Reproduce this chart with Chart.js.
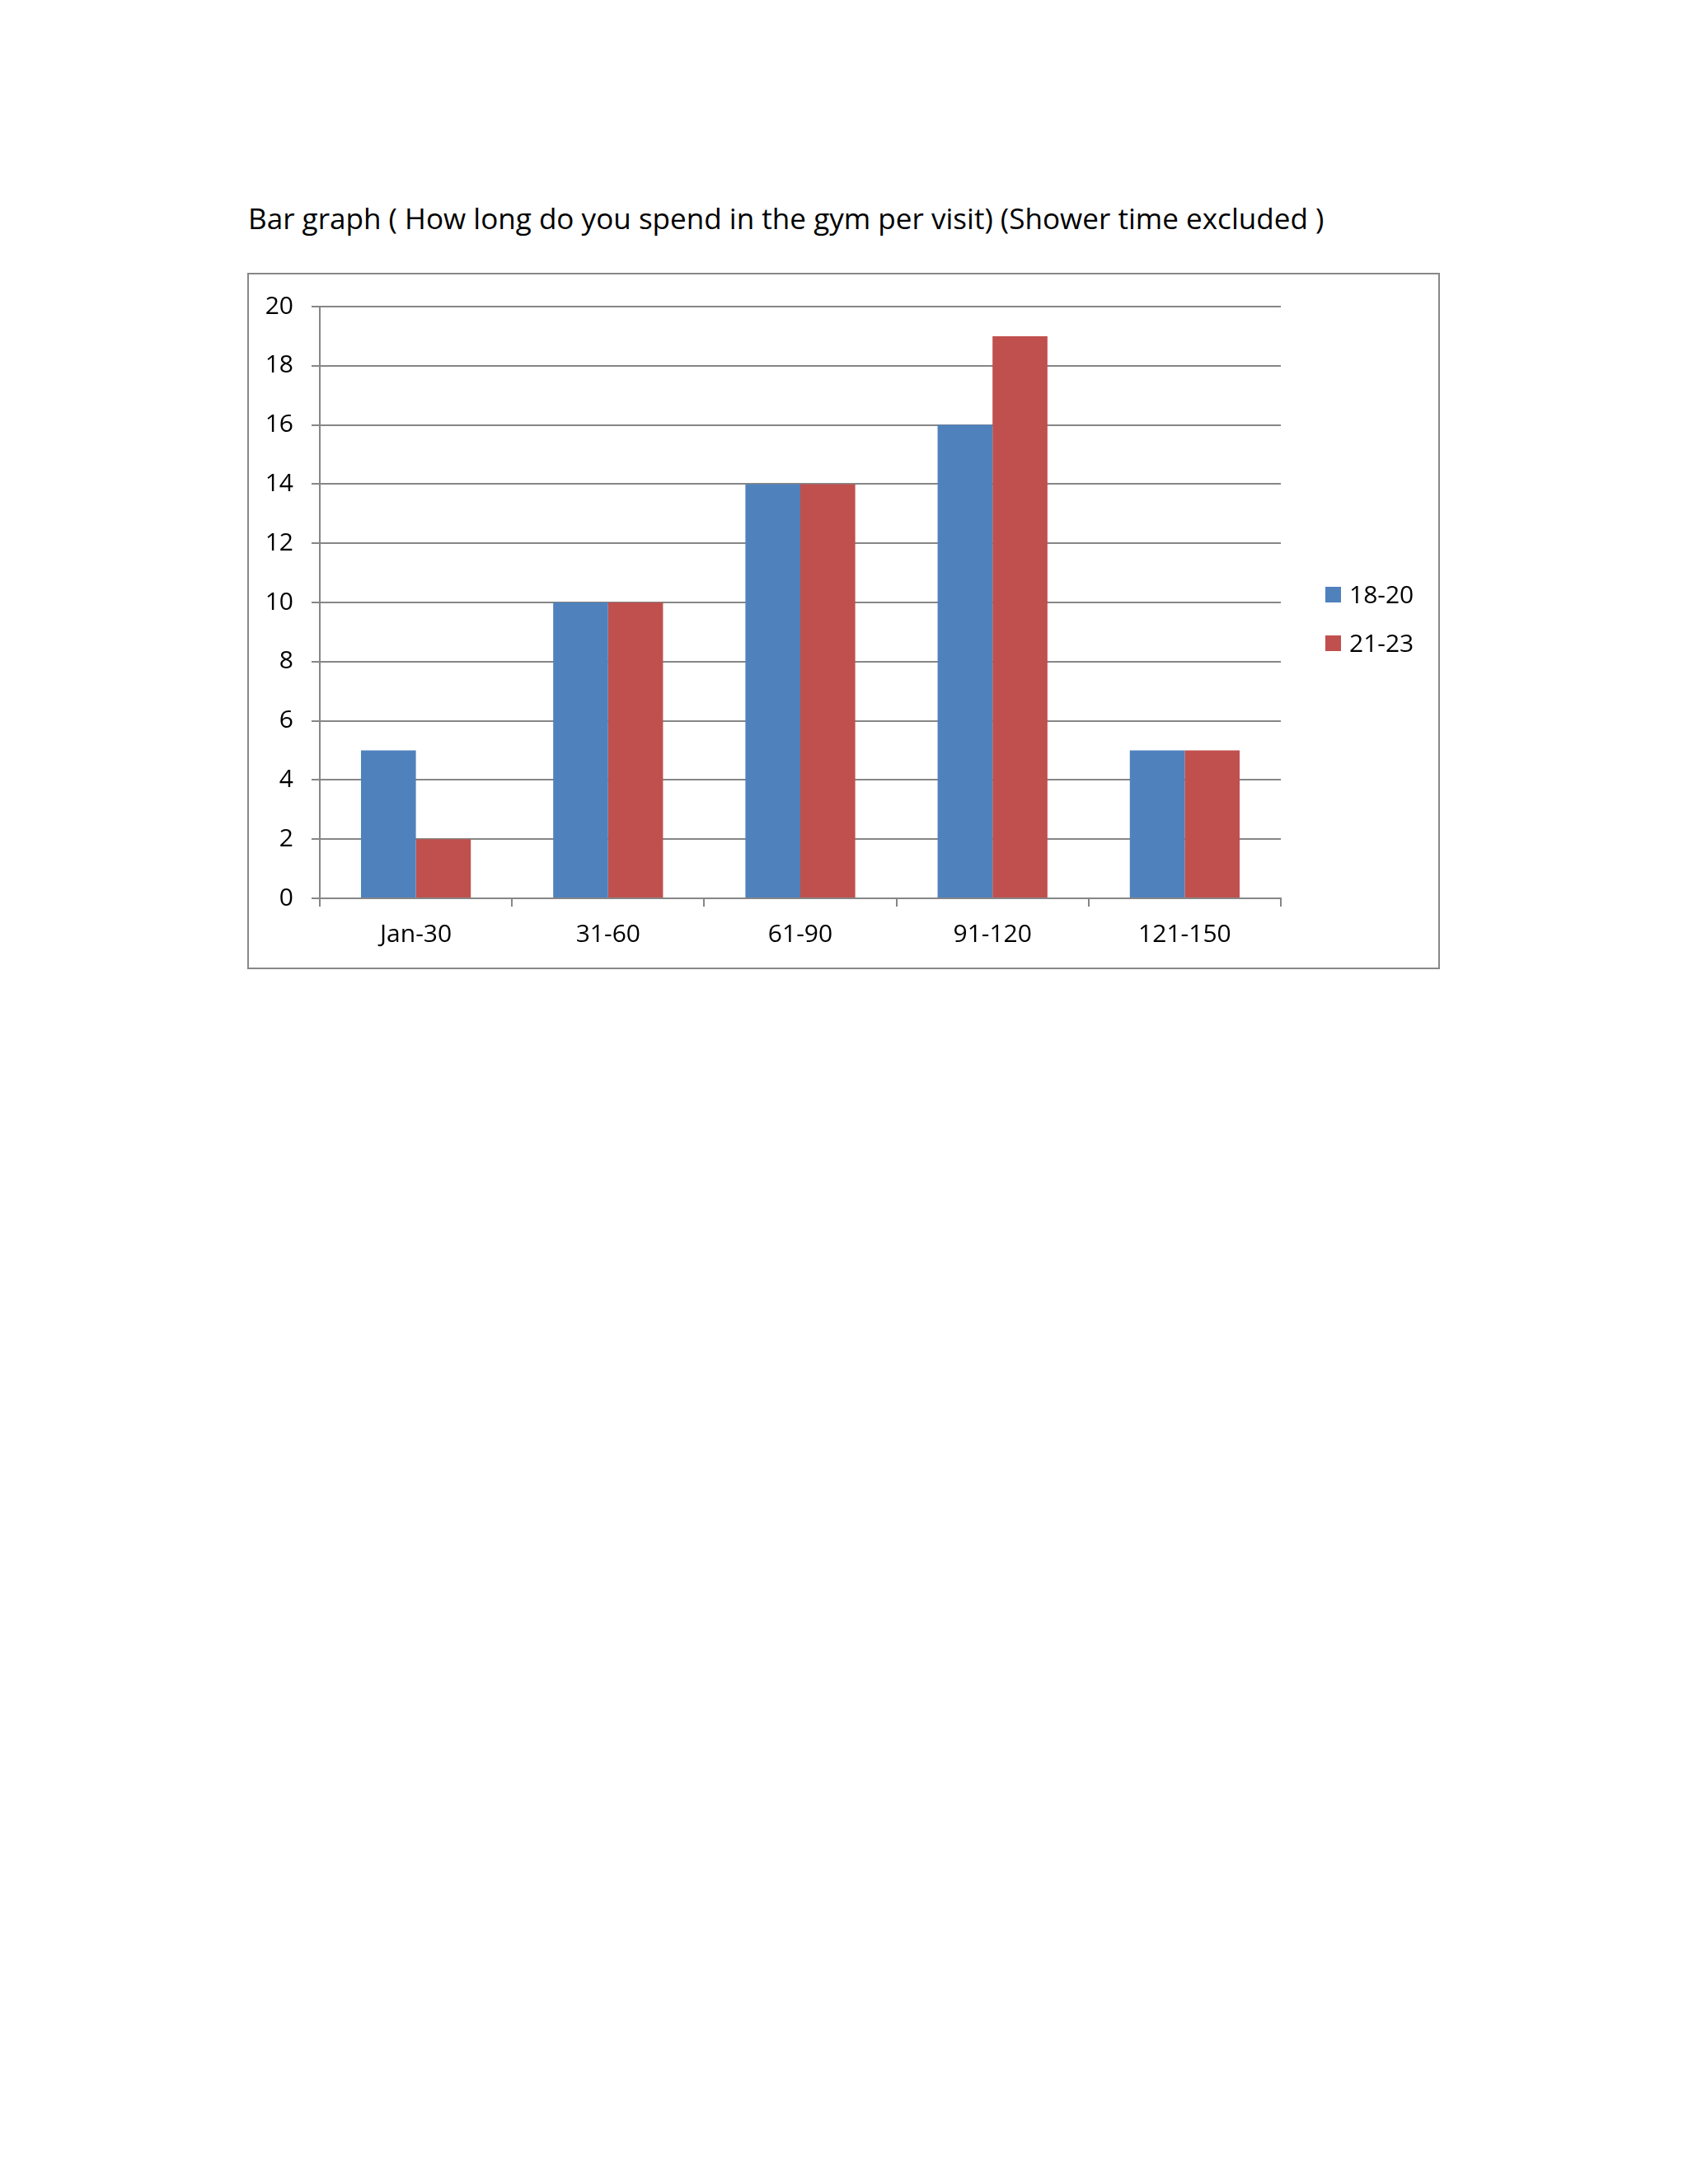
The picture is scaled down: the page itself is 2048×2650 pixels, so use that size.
<!DOCTYPE html>
<html>
<head>
<meta charset="utf-8">
<script src="https://cdn.jsdelivr.net/npm/chart.js@4.4.1/dist/chart.umd.min.js"></script>
<style>
  body { margin: 0; background: #fff; width: 2048px; height: 2650px; position: relative; font-family: "Open Sans", sans-serif; }
  #title { position: absolute; left: 301px; top: 247px; white-space: nowrap; line-height: 1; color: #000; }
  #frame { position: absolute; left: 300px; top: 331px; width: 1443px; height: 841px; border: 2px solid #888888; }
  #wrap { position: absolute; left: 301px; top: 332px; width: 1447px; height: 843px; }
  #legend { position: absolute; left: 1608px; top: 703px; font-size: 30px; line-height: 1; }
  .item { display: flex; align-items: center; height: 36px; margin-bottom: 23px; }
  .sw { width: 19px; height: 19px; margin-right: 10px; }
</style>
</head>
<body>
<div id="title">Bar graph ( How long do you spend in the gym per visit) (Shower time excluded )</div>
<div id="frame"></div>
<div id="wrap"><canvas id="gymChart" width="1447" height="843"></canvas></div>
<div id="legend"></div>
<script>
// minutes per visit, grouped by age
const categories = ["Jan-30", "31-60", "61-90", "91-120", "121-150"];
const seriesNames = ["18-20", "21-23"];
const age18to20 = [5, 10, 14, 16, 5];
const age21to23 = [2, 10, 14, 19, 5];
const seriesColors = ["#4F81BD", "#C0504D"];

const GRID = "#868686";
const tickFont = { family: "Open Sans", size: 30 };

// size the title so it spans the same width as the original
const title = document.getElementById("title");
const mctx = document.createElement("canvas").getContext("2d");
mctx.font = '100px "Open Sans"';
const titleSize = 100 * 1308 / mctx.measureText(title.textContent).width;
title.style.fontSize = titleSize.toFixed(1) + "px";

// legend from the series
const legend = document.getElementById("legend");
seriesNames.forEach((name, i) => {
    const row = document.createElement("div");
    row.className = "item";
    row.innerHTML = '<span class="sw" style="background:' + seriesColors[i] + '"></span><span>' + name + '</span>';
    legend.appendChild(row);
});

function drawGymChart() {
    const ctx = document.getElementById("gymChart").getContext("2d");
    new Chart(ctx, {
        type: "bar",
        data: {
            labels: categories,
            datasets: [
                { label: seriesNames[0], data: age18to20, backgroundColor: seriesColors[0] },
                { label: seriesNames[1], data: age21to23, backgroundColor: seriesColors[1] }
            ]
        },
        options: {
            responsive: false,
            animation: false,
            devicePixelRatio: 1,
            categoryPercentage: 0.5714,
            barPercentage: 1,
            layout: { padding: { top: 29, right: 194, left: 0, bottom: 0 } },
            plugins: { legend: { display: false }, tooltip: { enabled: false } },
            scales: {
                x: {
                    grid: { offset: true, drawOnChartArea: false, drawTicks: true, tickLength: 10, color: GRID, lineWidth: 2 },
                    border: { color: GRID, width: 2 },
                    ticks: { font: tickFont, color: "#000", padding: 16 },
                    afterFit: s => { s.height = 85; }
                },
                y: {
                    min: 0,
                    max: 20,
                    ticks: { stepSize: 2, font: tickFont, color: "#000", padding: 22 },
                    grid: { color: GRID, lineWidth: 2, tickLength: 10 },
                    border: { color: GRID, width: 2 },
                    afterFit: s => { s.width = 87; }
                }
            }
        }
    });
}

drawGymChart();
</script>
</body>
</html>
